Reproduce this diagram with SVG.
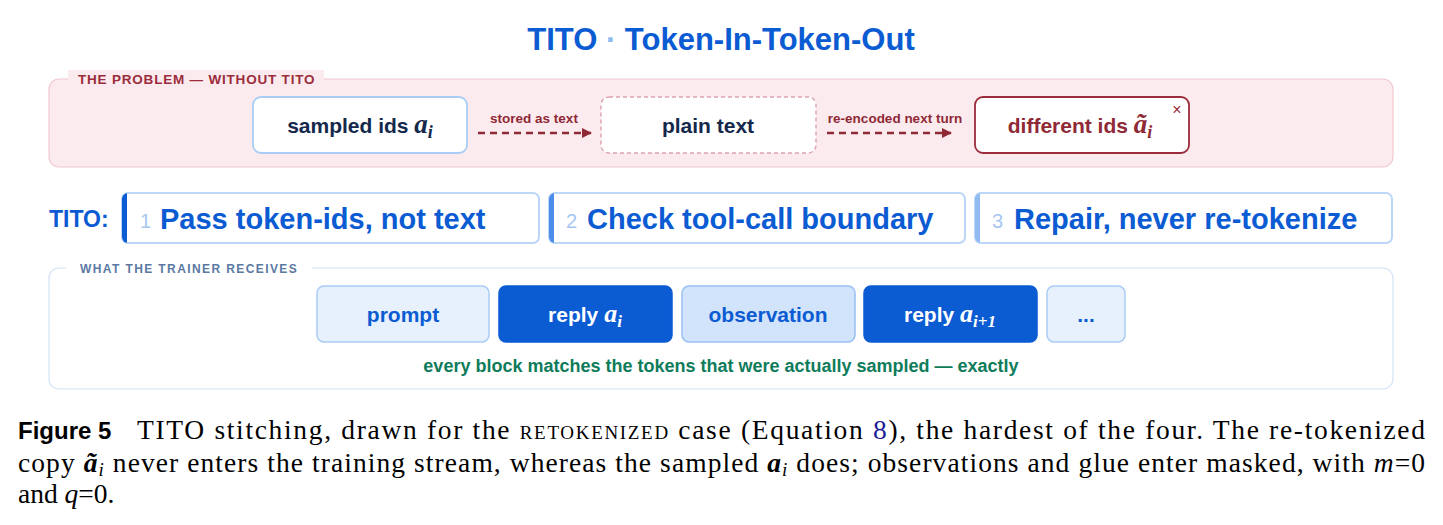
<svg xmlns="http://www.w3.org/2000/svg" width="1443" height="525" viewBox="0 0 1443 525">
<style>
.sans{font-family:"Liberation Sans",Arial,sans-serif;font-weight:bold}
.serif{font-family:"Liberation Serif","Times New Roman",serif}
.math{font-family:"Liberation Serif","Times New Roman",serif;font-style:italic;font-weight:bold}
.mathi{font-family:"Liberation Serif","Times New Roman",serif;font-style:italic}
.plbl{font-size:13.5px;fill:#9b2c3c;letter-spacing:0.8px}
.tlbl{font-size:12px;fill:#5b79a3;letter-spacing:1.4px}
.btxt{font-size:21px}
.alab{font-size:13.5px;fill:#8f2936}
.step{fill:#fff;stroke:#bcd6f7;stroke-width:2}
.stxt{font-size:29px;fill:#0b5bd3}
.snum{font-size:20px;fill:#a7c7f1;font-weight:normal}
.dash{fill:none;stroke:#8f2936;stroke-width:2.5;stroke-dasharray:7 5}
.blk{stroke-width:1.5}
</style>
<defs>
<marker id="ah" viewBox="0 0 10 10" refX="9" refY="5" markerWidth="4" markerHeight="4" orient="auto" markerUnits="strokeWidth">
<path d="M0,0 L10,5 L0,10 z" fill="#8f2936"/>
</marker>
<clipPath id="c1"><rect x="122" y="193" width="417" height="50" rx="6"/></clipPath>
<clipPath id="c2"><rect x="549" y="193" width="416" height="50" rx="6"/></clipPath>
<clipPath id="c3"><rect x="975" y="193" width="417" height="50" rx="6"/></clipPath>
</defs>
<rect width="1443" height="525" fill="#fff"/>

<g id="title">
<text x="721" y="50" text-anchor="middle" class="sans" font-size="31" fill="#0b5bd3">TITO <tspan fill="#8dbbf2">·</tspan> Token-In-Token-Out</text>
</g>

<g id="problem-panel">
<rect x="49" y="79" width="1344" height="88" rx="10" fill="#fcebee" stroke="#f0c8cf" stroke-width="1.2"/>
<rect x="68" y="70" width="256" height="18" fill="#fcebee"/>
<text x="78" y="84" class="sans plbl">THE PROBLEM — WITHOUT TITO</text>
</g>

<g id="node-sampled">
<rect x="253" y="97" width="214" height="56" rx="8" fill="#fff" stroke="#a9cdf5" stroke-width="1.8"/>
<text x="360" y="133" text-anchor="middle" class="sans btxt" fill="#14284b">sampled ids <tspan class="math" font-size="27">a</tspan><tspan class="math" font-size="18" dy="5">i</tspan></text>
</g>

<g id="node-plain">
<rect x="601" y="97" width="215" height="56" rx="8" fill="#fff" stroke="#dba3ae" stroke-width="1.4" stroke-dasharray="4 3"/>
<text x="708" y="133" text-anchor="middle" class="sans btxt" fill="#14284b">plain text</text>
</g>

<g id="node-different">
<rect x="975" y="97" width="214" height="56" rx="8" fill="#fff" stroke="#9b2c3c" stroke-width="1.8"/>
<text x="1080" y="133" text-anchor="middle" class="sans btxt" fill="#8f2936">different ids <tspan class="math" font-size="27">ã</tspan><tspan class="math" font-size="18" dy="5">i</tspan></text>
<text x="1177" y="115" text-anchor="middle" font-family="Liberation Sans,Arial,sans-serif" font-size="16" fill="#9b2c3c">×</text>
</g>

<g id="connectors">
<line x1="478" y1="133" x2="591" y2="133" class="dash" marker-end="url(#ah)"/>
<text x="534" y="123" text-anchor="middle" class="sans alab">stored as text</text>
<line x1="827" y1="133" x2="951" y2="133" class="dash" marker-end="url(#ah)"/>
<text x="895" y="123" text-anchor="middle" class="sans alab">re-encoded next turn</text>
</g>

<g id="tito-label">
<text x="49" y="227" class="sans" font-size="23" fill="#0b5bd3">TITO:</text>
</g>

<g id="step-1">
<rect x="122" y="193" width="417" height="50" rx="6" class="step"/>
<rect x="122" y="193" width="5" height="50" fill="#0b5bd3" clip-path="url(#c1)"/>
<text x="140" y="228" class="sans snum">1</text>
<text x="160" y="229" class="sans stxt">Pass token-ids, not text</text>
</g>

<g id="step-2">
<rect x="549" y="193" width="416" height="50" rx="6" class="step"/>
<rect x="549" y="193" width="5" height="50" fill="#4b8de8" clip-path="url(#c2)"/>
<text x="566" y="228" class="sans snum">2</text>
<text x="587" y="229" class="sans stxt">Check tool-call boundary</text>
</g>

<g id="step-3">
<rect x="975" y="193" width="417" height="50" rx="6" class="step"/>
<rect x="975" y="193" width="5" height="50" fill="#90bbf1" clip-path="url(#c3)"/>
<text x="992" y="228" class="sans snum">3</text>
<text x="1014" y="229" class="sans stxt">Repair, never re-tokenize</text>
</g>

<g id="trainer-panel">
<rect x="49" y="268" width="1344" height="121" rx="10" fill="#fff" stroke="#d2e3f6" stroke-width="1.2"/>
<rect x="66" y="261" width="246" height="14" fill="#fff"/>
<text x="80" y="273" class="sans tlbl">WHAT THE TRAINER RECEIVES</text>
</g>

<g id="blk-prompt">
<rect x="317" y="286" width="172" height="56" rx="7" class="blk" fill="#e7f1fd" stroke="#a9cbf5"/>
<text x="403" y="322" text-anchor="middle" class="sans btxt" fill="#0b5bd3">prompt</text>
</g>
<g id="blk-reply-i">
<rect x="499" y="286" width="173" height="56" rx="7" class="blk" fill="#0b5bd3" stroke="#0b5bd3"/>
<text x="585" y="322" text-anchor="middle" class="sans btxt" fill="#fff">reply <tspan class="math" font-size="26">a</tspan><tspan class="math" font-size="17" dy="5">i</tspan></text>
</g>
<g id="blk-observation">
<rect x="682" y="286" width="173" height="56" rx="7" class="blk" fill="#d2e4fb" stroke="#98c0f2"/>
<text x="768" y="322" text-anchor="middle" class="sans btxt" fill="#0b5bd3">observation</text>
</g>
<g id="blk-reply-i1">
<rect x="864" y="286" width="173" height="56" rx="7" class="blk" fill="#0b5bd3" stroke="#0b5bd3"/>
<text x="950" y="322" text-anchor="middle" class="sans btxt" fill="#fff">reply <tspan class="math" font-size="26">a</tspan><tspan class="math" font-size="17" dy="5">i+1</tspan></text>
</g>
<g id="blk-more">
<rect x="1047" y="286" width="78" height="56" rx="7" class="blk" fill="#e7f1fd" stroke="#a9cbf5"/>
<text x="1086" y="322" text-anchor="middle" class="sans btxt" fill="#0b5bd3">...</text>
</g>

<g id="trainer-note">
<text x="721" y="372" text-anchor="middle" class="sans" font-size="18" fill="#0e7c5b">every block matches the tokens that were actually sampled — exactly</text>
</g>

<g id="caption">
<text x="18" y="439" class="sans" font-size="24" fill="#000">Figure 5</text>
<text x="137" y="439" class="serif" font-size="27.5" fill="#000" textLength="1288" lengthAdjust="spacing">TITO stitching, drawn for the <tspan font-variant="small-caps">retokenized</tspan> case (Equation <tspan fill="#1c1c94">8</tspan>), the hardest of the four. The re-tokenized</text>
<text x="18" y="472" class="serif" font-size="27.5" fill="#000" textLength="1407" lengthAdjust="spacing">copy <tspan class="math">ã</tspan><tspan class="mathi" font-size="19" dy="4">i</tspan><tspan dy="-4"> never enters the training stream, whereas the sampled </tspan><tspan class="math">a</tspan><tspan class="mathi" font-size="19" dy="4">i</tspan><tspan dy="-4"> does; observations and glue enter masked, with </tspan><tspan class="mathi">m</tspan>=0</text>
<text x="18" y="503" class="serif" font-size="27.5" fill="#000">and <tspan class="mathi">q</tspan>=0.</text>
</g>
</svg>
